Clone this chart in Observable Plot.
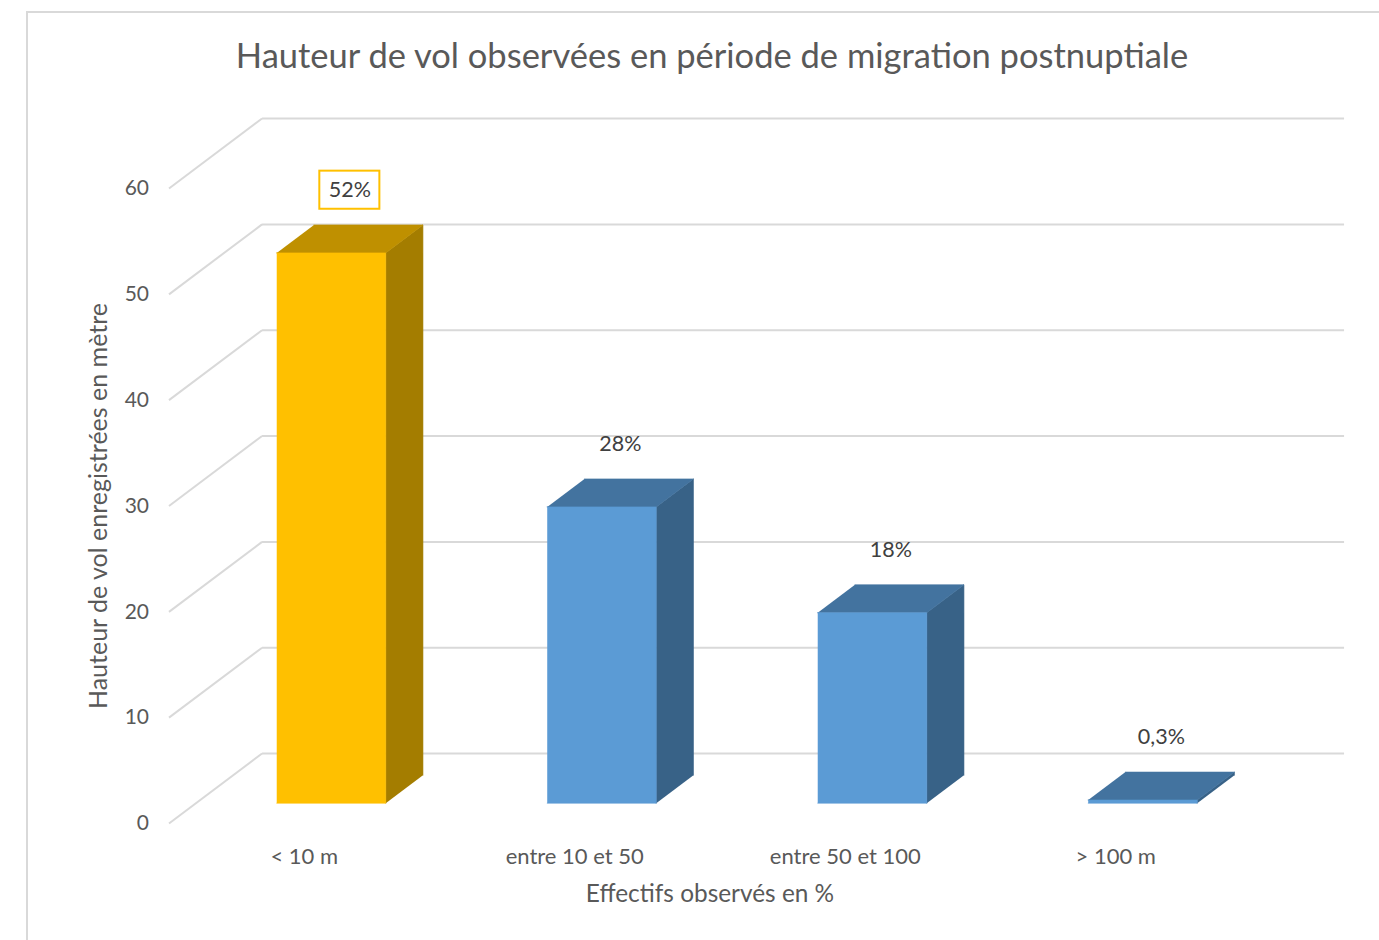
<!DOCTYPE html>
<html>
<head>
<meta charset="utf-8">
<script src="https://cdn.jsdelivr.net/npm/d3@7"></script>
<script src="https://cdn.jsdelivr.net/npm/@observablehq/plot@0.6"></script>
<style>
  body { margin: 0; background: #fff; width: 1379px; height: 940px; overflow: hidden; position: relative; font-family: Lato, "Open Sans", sans-serif; }
  #frame { position: absolute; left: 26px; top: 11px; width: 1400px; height: 1000px; border-left: 2px solid #d9d9d9; border-top: 2px solid #d9d9d9; box-sizing: border-box; }
  #title { position: absolute; left: 45px; width: 1334px; top: 34px; text-align: center; font-size: 34.5px; color: #595959; white-space: nowrap; }
  #chart { position: absolute; left: 0; top: 100px; }
</style>
</head>
<body>
<div id="frame"></div>
<div id="title">Hauteur de vol observées en période de migration postnuptiale</div>
<div id="chart"></div>
<script>
const categories = ["< 10 m", "entre 10 et 50", "entre 50 et 100", "> 100 m"];
const values = [52, 28, 18, 0.3];
const valueLabels = ["52%", "28%", "18%", "0,3%"];
const yTicks = [0, 10, 20, 30, 40, 50, 60];
const yTitle = "Hauteur de vol enregistrées en mètre";
const xTitle = "Effectifs observés en %";

// styling / 3D geometry (in scale units)
const yellow = {front: "#FFC000", top: "#BF9000", side: "#A47D00"};
const blue = {front: "#5B9BD5", top: "#43739F", side: "#386287"};
const DX = 0.344, DY = 6.61, F0 = 0.29, F1 = 0.69, FM = 0.49, W = 0.403;
const imax = values.indexOf(Math.max(...values));

const faces = [];
values.forEach((v, i) => {
  const pal = i === imax ? yellow : blue;
  const xl = i - W / 2, xr = i + W / 2;
  const P = (x, y, f) => ({x: x + f * DX, y: y + f * DY});
  const add = (name, pts, color) => pts.forEach(p => faces.push({id: i + name, color, ...p}));
  add("side", [P(xr, 0, F0), P(xr, v, F0), P(xr, v, F1), P(xr, 0, F1)], pal.side);
  add("top", [P(xl, v, F0), P(xr, v, F0), P(xr, v, F1), P(xl, v, F1)], pal.top);
  add("front", [P(xl, 0, F0), P(xr, 0, F0), P(xr, v, F0), P(xl, v, F0)], pal.front);
});

const labels = values.map((v, i) => ({
  x: i + FM * DX,
  y: v + FM * DY + 4.6,
  text: valueLabels[i],
  hi: i === imax
}));

const chart = Plot.plot({
  width: 1379,
  height: 840,
  margin: 0,
  x: {domain: [-0.5, 3.5], range: [168.5, 1250.5], axis: null},
  y: {domain: [0, 60], range: [723, 88], axis: null},
  color: {type: "identity"},
  style: {fontFamily: "Lato, 'Open Sans', sans-serif", color: "#595959", background: "transparent", overflow: "visible"},
  marks: [
    Plot.link(yTicks, {x1: -0.5 + DX, x2: 3.5 + DX, y1: t => t + DY, y2: t => t + DY, stroke: "#d9d9d9", strokeWidth: 2}),
    Plot.link(yTicks, {x1: -0.5, y1: t => t, x2: -0.5 + DX, y2: t => t + DY, stroke: "#d9d9d9", strokeWidth: 2}),
    Plot.text(yTicks, {x: -0.5, y: t => t, text: t => String(t), dx: -20, textAnchor: "end", fontSize: 21, fill: "#595959"}),
    Plot.line(faces, {x: "x", y: "y", z: "id", fill: "color", stroke: "color", strokeWidth: 0.6}),
    Plot.rect(labels.filter(d => d.hi), {x1: d => d.x - 0.111, x2: d => d.x + 0.111, y1: d => d.y - 1.8, y2: d => d.y + 1.8, fill: "white", stroke: yellow.front, strokeWidth: 2}),
    Plot.text(labels, {x: "x", y: "y", text: "text", fontSize: 21.5, fill: "#404040"}),
    Plot.text(categories, {x: (d, i) => i, y: 0, dy: 33, text: d => d, fontSize: 22, fill: "#595959"}),
    Plot.text([xTitle], {x: 1.5, y: 0, dy: 71, text: d => d, fontSize: 24.4, fill: "#595959"}),
    Plot.text([yTitle], {x: -0.5, y: 30, dx: -70, text: d => d, rotate: -90, fontSize: 25, fill: "#595959"})
  ]
});
document.getElementById("chart").appendChild(chart);
</script>
</body>
</html>
